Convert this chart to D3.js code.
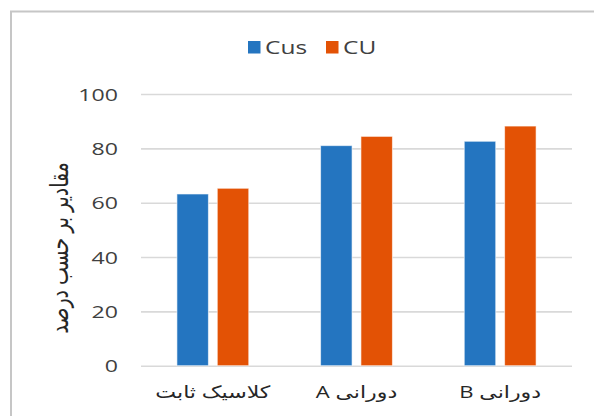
<!DOCTYPE html>
<html>
<head>
<meta charset="utf-8">
<script src="https://cdn.jsdelivr.net/npm/d3@7"></script>
<style>
  html, body { margin: 0; padding: 0; background: #fff; }
  svg { display: block; }
  text { font-family: "Open Sans", "Liberation Sans", "DejaVu Sans", sans-serif; }
</style>
</head>
<body>
<svg id="chart" width="594" height="416"></svg>
<script>
const categories = ["کلاسیک ثابت", "دورانی A", "دورانی B"];
const seriesNames = ["Cus", "CU"];
const cusValues = [63.2, 81.0, 82.6];
const cuValues = [65.3, 84.4, 88.2];
const yTicks = [0, 20, 40, 60, 80, 100];
const yTitle = "مقادیر بر حسب درصد";
const colors = ["#2475C0", "#E35205"];

const seriesValues = [cusValues, cuValues];
const svg = d3.select("#chart");
const SX = 1.36; // horizontal stretch of the reference text

// frame
svg.append("rect")
  .attr("x", 11).attr("y", 11.5)
  .attr("width", 620).attr("height", 440)
  .attr("fill", "#fff")
  .attr("stroke", "#c6c6c6").attr("stroke-width", 2);

const plot = { left: 141, right: 572, top: 94, bottom: 365.7 };

const y = d3.scaleLinear().domain([0, 100]).range([plot.bottom, plot.top]);
const x0 = d3.scaleBand().domain(categories).range([plot.left, plot.right])
  .paddingInner(0.5).paddingOuter(0.25);
const x1 = d3.scaleBand().domain(seriesNames).range([0, x0.bandwidth()])
  .paddingInner(0.22);

// gridlines + tick labels
const yAxis = d3.axisLeft(y).tickValues(yTicks).tickSize(-(plot.right - plot.left)).tickPadding(0);
const gy = svg.append("g").attr("transform", `translate(${plot.left},0)`).call(yAxis);
gy.select(".domain").remove();
gy.selectAll(".tick line").attr("stroke", "#d9d9d9").attr("stroke-width", 1.6);
gy.selectAll(".tick text")
  .attr("fill", "#404040")
  .attr("x", 0)
  .attr("transform", `translate(-23,0) scale(${SX},1)`)
  .style("font-size", "17px")
  .attr("dy", "0.36em");

// bars
const groups = svg.append("g").selectAll("g")
  .data(categories)
  .join("g")
  .attr("transform", d => `translate(${x0(d)},0)`);

groups.selectAll("rect")
  .data((d, i) => seriesNames.map((s, j) => ({ s, v: seriesValues[j][i], j })))
  .join("rect")
  .attr("x", d => x1(d.s))
  .attr("width", x1.bandwidth())
  .attr("y", d => y(d.v))
  .attr("height", d => y(0) - y(d.v))
  .attr("fill", d => colors[d.j])
  .attr("stroke", "rgba(255,255,255,0.6)")
  .attr("stroke-width", 1);

// x labels
svg.append("g").selectAll("text")
  .data(categories)
  .join("text")
  .attr("transform", d => `translate(${x0(d) + x0.bandwidth() / 2},398) scale(1.3,1)`)
  .attr("text-anchor", "middle")
  .attr("direction", "rtl")
  .attr("fill", "#262626")
  .style("font-size", "17px")
  .text(d => d);

// y title
svg.append("text")
  .attr("transform", "translate(68,248) rotate(-90) scale(1,1.35)")
  .attr("text-anchor", "middle")
  .attr("direction", "rtl")
  .attr("fill", "#262626")
  .style("font-size", "19px")
  .text(yTitle);

// legend
const legendItems = [
  { name: seriesNames[0], x: 248 },
  { name: seriesNames[1], x: 326 }
];
const lg = svg.append("g").selectAll("g")
  .data(legendItems)
  .join("g")
  .attr("transform", d => `translate(${d.x},41)`);
lg.append("rect").attr("width", 12.5).attr("height", 12.5)
  .attr("fill", (d, i) => colors[i]);
lg.append("text")
  .attr("transform", `translate(17,12.5) scale(${SX},1)`)
  .attr("fill", "#404040")
  .style("font-size", "18px")
  .text(d => d.name);
</script>
</body>
</html>
